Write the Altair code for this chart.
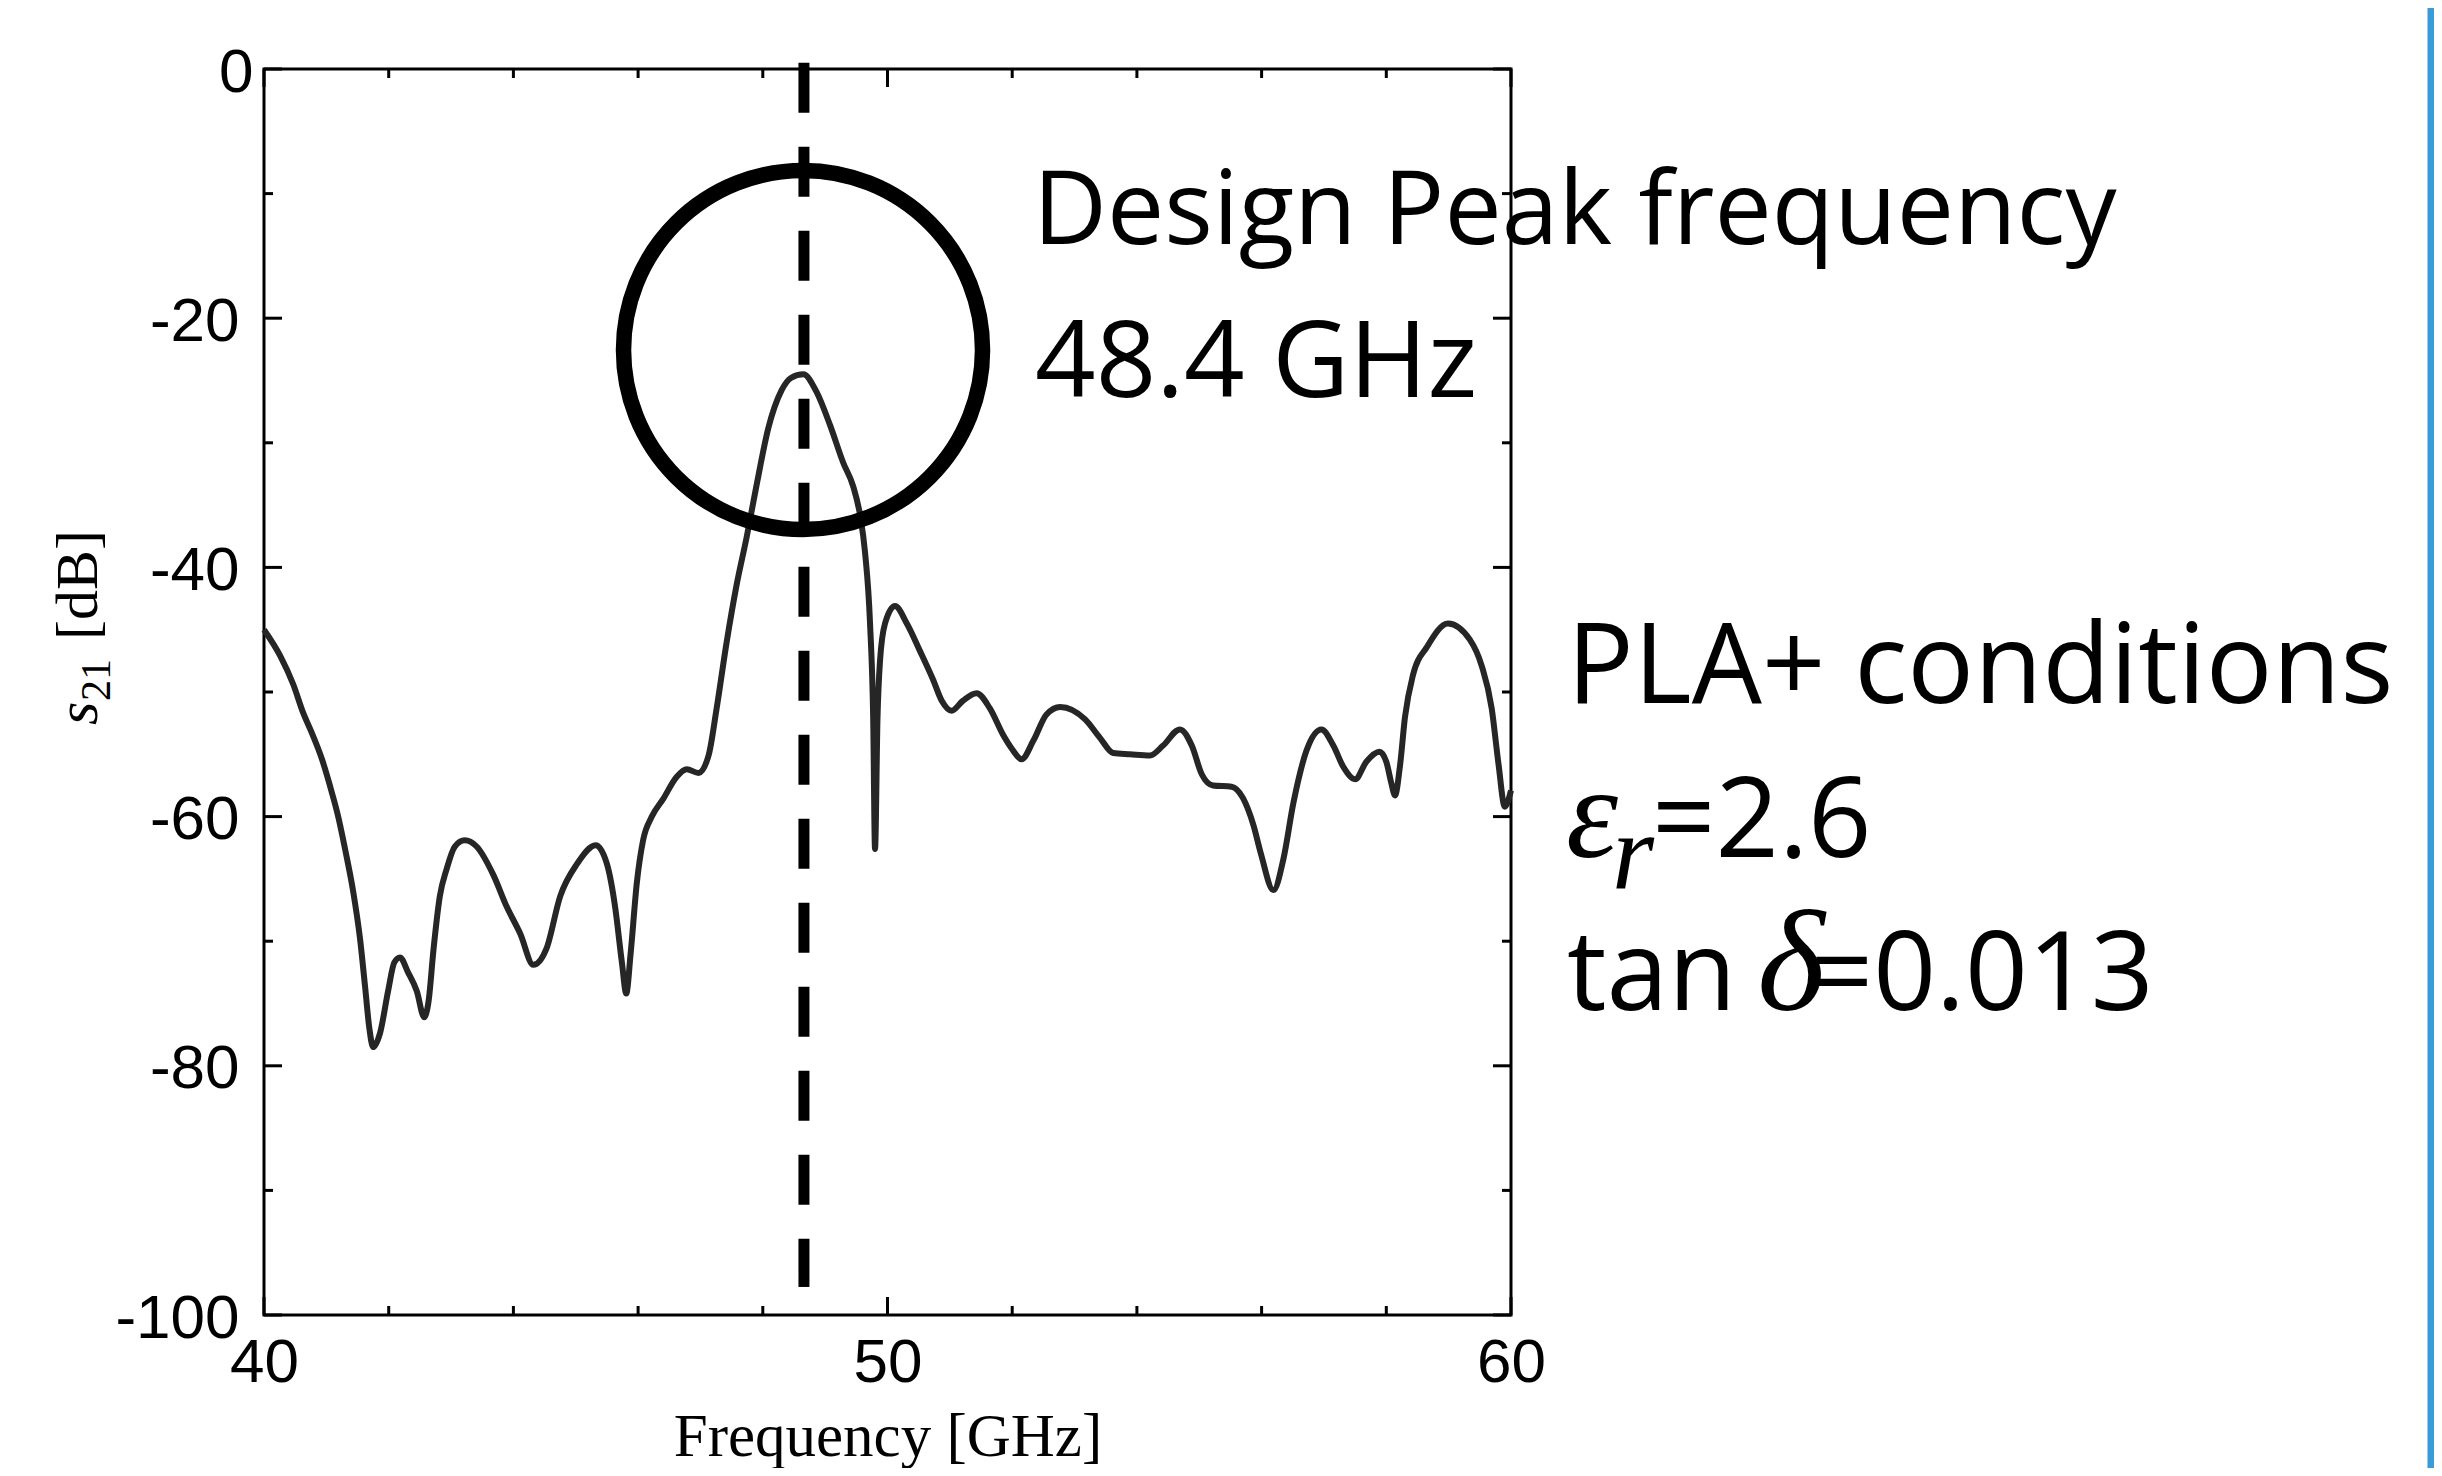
import altair as alt
import pandas as pd

# ---------------- data ----------------
freq = [40.00, 40.26, 40.47, 40.63, 40.76, 40.93, 41.09, 41.19, 41.30, 41.43,
        41.54, 41.62, 41.69, 41.75, 41.86, 41.99, 42.09, 42.18, 42.31, 42.45,
        42.57, 42.64, 42.72, 42.82, 42.93, 43.06, 43.22, 43.41, 43.68, 43.89,
        44.11, 44.32, 44.53, 44.75, 45.02, 45.32, 45.50, 45.63, 45.74, 45.81,
        45.88, 45.98, 46.08, 46.22, 46.40, 46.62, 46.78, 46.97, 47.13, 47.26,
        47.42, 47.58, 47.74, 47.90, 48.09, 48.30, 48.45, 48.65, 48.86, 49.08,
        49.29, 49.45, 49.56, 49.64, 49.72, 49.77, 49.80, 49.84, 49.88, 49.96,
        50.12, 50.31, 50.52, 50.73, 50.87, 51.03, 51.21, 51.43, 51.64, 51.86,
        52.00, 52.15, 52.34, 52.55, 52.77, 53.17, 53.41, 53.62, 53.89, 54.21,
        54.42, 54.69, 54.88, 55.04, 55.22, 55.52, 55.70, 55.87, 55.99, 56.19,
        56.35, 56.51, 56.72, 56.96, 57.15, 57.31, 57.50, 57.68, 57.89, 58.00,
        58.08, 58.14, 58.22, 58.30, 58.43, 58.65, 58.99, 59.34, 59.53, 59.69,
        59.80, 59.90, 60.00]
s21 = [-45.0, -47.1, -49.4, -51.7, -53.2, -55.4, -58.1, -60.0, -62.6, -66.0,
       -69.8, -73.6, -77.0, -78.5, -77.4, -74.0, -71.7, -71.3, -72.5, -74.0,
       -76.1, -74.8, -70.6, -66.4, -64.2, -62.4, -61.9, -62.4, -64.7, -67.2,
       -69.4, -71.9, -70.6, -66.4, -63.8, -62.3, -63.8, -67.2, -71.7, -74.2,
       -71.0, -65.3, -61.9, -60.0, -58.6, -56.8, -56.2, -56.5, -55.1, -51.3,
       -46.0, -41.4, -37.6, -33.4, -28.8, -25.8, -24.8, -24.5, -25.9, -28.6,
       -31.6, -33.5, -35.8, -38.8, -44.5, -52.0, -62.6, -52.0, -47.5, -44.5,
       -43.1, -44.5, -46.7, -49.0, -50.7, -51.5, -50.7, -50.1, -51.3, -53.5,
       -54.6, -55.4, -53.9, -51.8, -51.2, -52.2, -53.7, -54.9, -55.0, -55.1,
       -54.3, -53.0, -54.3, -56.6, -57.5, -57.6, -58.5, -60.7, -63.0, -65.9,
       -63.4, -58.9, -54.7, -53.0, -54.3, -56.0, -57.0, -55.6, -54.8, -55.6,
       -57.3, -58.3, -55.9, -52.0, -48.6, -46.4, -44.5, -45.8, -47.9, -51.3,
       -55.8, -59.2, -57.9]

x_labels = [40, 50, 60]
x_minor = [42, 44, 46, 48, 52, 54, 56, 58]
y_labels = [0, -20, -40, -60, -80, -100]
y_minor = [-10, -30, -50, -70, -90]

peak_freq = [48.66]
circle_freq = [48.645]
circle_db = [-22.55]

# ---------------- layout ----------------
W, H = 1247, 1246
X_DOM, Y_DOM = [40, 60], [-100, 0]
ppx = W / (X_DOM[1] - X_DOM[0])
ppy = H / (Y_DOM[1] - Y_DOM[0])

xs = alt.Scale(domain=X_DOM, nice=False, zero=False)
ys = alt.Scale(domain=Y_DOM, nice=False, zero=False)

xaxis = alt.Axis(values=x_labels, labelExpr="'' + datum.value",
                 labelFont="Liberation Sans", labelFontSize=62, labelColor="black",
                 labelPadding=17, labelFlush=False, labelOverlap=False,
                 ticks=False, tickSize=0, domain=False, grid=False,
                 title="Frequency [GHz]", titleFont="Liberation Serif",
                 titleFontSize=61, titleFontWeight="normal", titleColor="black",
                 titlePadding=14)
yaxis = alt.Axis(values=y_labels, labelExpr="'' + datum.value",
                 labelFont="Liberation Sans", labelFontSize=62, labelColor="black",
                 labelPadding={"condition": {"test": "datum.value === 0", "value": 11}, "value": 25},
                 labelOffset=3, labelFlush=False, labelOverlap=False,
                 ticks=False, tickSize=0, domain=False, grid=False, title="")


def X(field="x"):
    return alt.X(f"{field}:Q", scale=xs, axis=xaxis)


def Y(field="y"):
    return alt.Y(f"{field}:Q", scale=ys, axis=yaxis)


# inward ticks on all four sides
MAJ, MIN = 18, 9
rows = []
for t, L in [(v, MAJ) for v in x_labels] + [(v, MIN) for v in x_minor]:
    rows.append(dict(x=t, x2=t, y=Y_DOM[0], y2=Y_DOM[0] + L / ppy))
    rows.append(dict(x=t, x2=t, y=Y_DOM[1], y2=Y_DOM[1] - L / ppy))
for t, L in [(v, MAJ) for v in y_labels] + [(v, MIN) for v in y_minor]:
    rows.append(dict(x=X_DOM[0], x2=X_DOM[0] + L / ppx, y=t, y2=t))
    rows.append(dict(x=X_DOM[1], x2=X_DOM[1] - L / ppx, y=t, y2=t))
ticks = alt.Chart(pd.DataFrame(rows)).mark_rule(color="black", strokeWidth=3).encode(
    x=X(), x2="x2:Q", y=Y(), y2="y2:Q")

curve = alt.Chart(pd.DataFrame({"x": freq, "y": s21})).mark_line(
    color="#262626", strokeWidth=6, interpolate="monotone").encode(x=X(), y=Y())

dashed = alt.Chart(pd.DataFrame({"x": peak_freq, "y": [0.5], "y2": [-97.75]})).mark_rule(
    color="black", strokeWidth=11, strokeDash=[50, 34]).encode(x=X(), y=Y(), y2="y2:Q")

circle = alt.Chart(pd.DataFrame({"x": circle_freq, "y": circle_db})).mark_point(
    shape="circle", filled=False, size=359 ** 2, strokeWidth=15.5, color="black",
    opacity=1).encode(x=X(), y=Y())


def note(text, x, y, **kw):
    props = dict(align="left", baseline="alphabetic", color="black")
    props.update(kw)
    df = pd.DataFrame({"x": [x], "y": [y], "t": [text]})
    return alt.Chart(df).mark_text(**props).encode(x=X(), y=Y(), text="t:N")


SANS = "Open Sans"
SERIF = "Liberation Serif"
notes = [
    note("Design Peak frequency", 52.334, -14.04, font=SANS, fontSize=102),
    note("48.4 GHz", 52.366, -26.32, font=SANS, fontSize=106),
    note("PLA+ conditions", 60.898, -50.88, font=SANS, fontSize=111),
    note("\u03b5", 60.882, -63.24, font=SERIF, fontSize=132, fontStyle="italic"),
    note("r", 61.62, -65.73, font=SERIF, fontSize=108, fontStyle="italic"),
    note("=2.6", 62.261, -63.24, font=SANS, fontSize=111),
    note("tan", 60.898, -75.52, font=SANS, fontSize=111),
    note("\u03b4", 63.95, -75.52, font=SERIF, fontSize=145, fontStyle="italic"),
    note("=0.013", 64.80, -75.52, font=SANS, fontSize=110),
    # y axis title  s_21 [dB]
    note("s", 37.322, -52.65, font=SERIF, fontSize=60, fontStyle="italic", angle=270),
    note("21", 37.530, -50.72, font=SERIF, fontSize=42, angle=270),
    note("[dB]", 37.322, -45.83, font=SERIF, fontSize=60, angle=270),
]

blue = alt.Chart(pd.DataFrame({"x": [74.755], "y": [4.9], "y2": [-112.3]})).mark_rule(
    color="#3a9bd9", strokeWidth=7).encode(x=X(), y=Y(), y2="y2:Q")

chart = alt.layer(ticks, curve, dashed, circle, *notes, blue).properties(
    width=W, height=H,
    autosize=alt.AutoSizeParams(type="none"),
    padding={"left": 256, "top": 61, "right": 923, "bottom": 153},
    background="white",
).configure_view(stroke="black", strokeWidth=3)

chart.save("out.html", embed_options={"renderer": "svg", "actions": False})
